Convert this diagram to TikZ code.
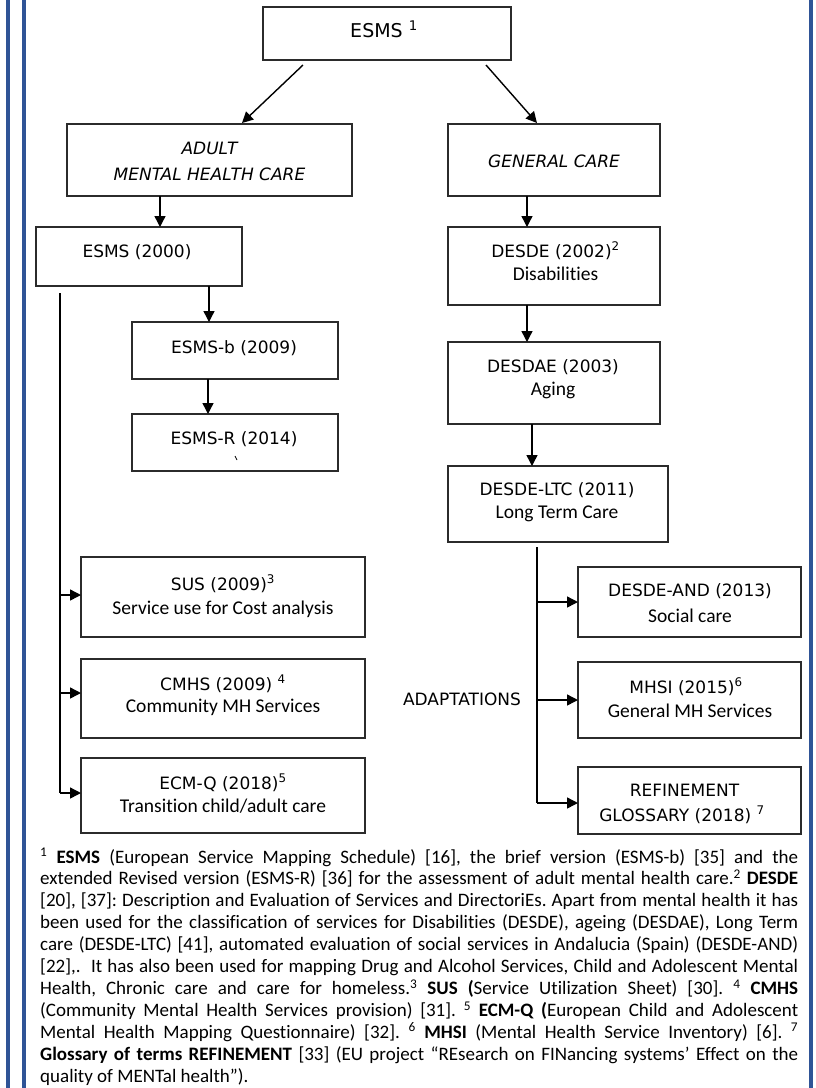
\documentclass[tikz,border=0pt]{standalone}
\usepackage{fontspec}
\setmainfont{Carlito}[Ligatures={TeX,NoCommon}]
\newfontfamily\dv{DejaVu Sans}
\usetikzlibrary{arrows.meta,calc}
\definecolor{frameblue}{HTML}{2F5496}
\definecolor{boxline}{HTML}{2B2B2B}
\frenchspacing
\newcommand{\jl}[1]{\hbox to 758pt{#1}}
\begin{document}
\begin{tikzpicture}[x=1pt,y=-1pt,
  box/.style={draw=boxline, line width=1.5pt, inner sep=0pt, outer sep=0pt},
  ttl/.style={font=\dv\fontsize{17}{20}\selectfont, anchor=base, inner sep=0pt},
  itl/.style={font=\dv\itshape\fontsize{17}{20}\selectfont, anchor=base, inner sep=0pt},
  sub/.style={font=\fontsize{19.5}{22}\selectfont, anchor=base, inner sep=0pt},
  arr/.style={draw=black, line width=1.4pt, -{Triangle[length=11pt,width=11pt]}},
  ln/.style={draw=black, line width=1.4pt},
  fn/.style={font=\fontsize{19}{22}\selectfont, anchor=base west, inner sep=0pt},
  frame/.style={draw=frameblue, line width=4pt}]
\useasboundingbox (0,0) rectangle (815,1088);
% blue frame lines
\coordinate (fa) at (8,0);   \coordinate (fb) at (8,1088);
\coordinate (fc) at (24,0);  \coordinate (fd) at (24,1088);
\coordinate (fe) at (811,0); \coordinate (ff) at (811,1088);
\draw[frame] (fa) -- (fb);
\draw[frame] (fc) -- (fd);
\draw[frame] (fe) -- (ff);

% boxes
\node[box, minimum width=248pt, minimum height=53pt] (esms) at (387,33.5) {};
\node[box, minimum width=285pt, minimum height=72pt] (adult) at (209.5,160) {};
\node[box, minimum width=212pt, minimum height=72pt] (gen) at (554,160) {};
\node[box, minimum width=206pt, minimum height=59pt] (e2000) at (139,256.5) {};
\node[box, minimum width=212pt, minimum height=78pt] (desde) at (554,266) {};
\node[box, minimum width=206pt, minimum height=57pt] (esmsb) at (235,350.5) {};
\node[box, minimum width=206pt, minimum height=57pt] (esmsr) at (235,442.5) {};
\node[box, minimum width=212pt, minimum height=82pt] (desdae) at (554,383) {};
\node[box, minimum width=220pt, minimum height=76pt] (ltc) at (558,504) {};
\node[box, minimum width=284pt, minimum height=80pt] (sus) at (223,597) {};
\node[box, minimum width=284pt, minimum height=79pt] (cmhs) at (223,698.5) {};
\node[box, minimum width=284pt, minimum height=75pt] (ecmq) at (223,795.5) {};
\node[box, minimum width=223pt, minimum height=70pt] (dand) at (689.5,602) {};
\node[box, minimum width=223pt, minimum height=76pt] (mhsi) at (689.5,700) {};
\node[box, minimum width=223pt, minimum height=67pt] (refi) at (689.5,800.5) {};

% texts
\node[ttl, font=\dv\fontsize{19}{22}\selectfont] (tEsms) at (384,37) {ESMS \textsuperscript{1}};
\node[itl] (tAdult1) at (209.5,154) {ADULT};
\node[itl] (tAdult2) at (209.5,180) {MENTAL HEALTH CARE};
\node[itl] (tGen) at (554,167) {GENERAL CARE};
\node[ttl] (tE2000) at (137,257) {ESMS (2000)};
\node[ttl] (tDesde1) at (555.5,257) {DESDE (2002)\textsuperscript{2}};
\node[sub] (tDesde2) at (555.5,280) {Disabilities};
\node[ttl] (tEsmsb) at (234,353) {ESMS-b (2009)};
\node[ttl] (tEsmsr) at (234,444) {ESMS-R (2014)};
\node[ttl] (tDesdae1) at (553,372) {DESDAE (2003)};
\node[sub] (tDesdae2) at (553,395) {Aging};
\node[ttl] (tLtc1) at (557,495) {DESDE-LTC (2011)};
\node[sub] (tLtc2) at (557,518) {Long Term Care};
\node[ttl] (tSus1) at (223,590) {SUS (2009)\textsuperscript{3}};
\node[sub] (tSus2) at (223,614) {Service use for Cost analysis};
\node[ttl] (tCmhs1) at (223,690) {CMHS (2009) \textsuperscript{4}};
\node[sub] (tCmhs2) at (223,712) {Community MH Services};
\node[ttl] (tEcmq1) at (223,789) {ECM-Q (2018)\textsuperscript{5}};
\node[sub] (tEcmq2) at (223,812) {Transition child/adult care};
\node[ttl] (tDand1) at (690,596) {DESDE-AND (2013)};
\node[sub] (tDand2) at (690,622) {Social care};
\node[ttl] (tMhsi1) at (686,693) {MHSI (2015)\textsuperscript{6}};
\node[sub] (tMhsi2) at (690,717) {General MH Services};
\node[ttl] (tRef1) at (684.5,796) {REFINEMENT};
\node[ttl] (tRef2) at (682,821) {GLOSSARY (2018) \textsuperscript{7}};
\node[ttl] (tAdapt) at (462,705) {ADAPTATIONS};
% stray tick mark in ESMS-R box
\coordinate (tk1) at (235,456); \coordinate (tk2) at (237,460);
\draw[line width=0.8pt] (tk1) -- (tk2);

% connectors
\draw[arr] ([shift={(-84,5)}]esms.south) -- ([shift={(32.5,-1)}]adult.north);
\draw[arr] ([shift={(99,5)}]esms.south) -- ([shift={(-17,-1)}]gen.north);
\draw[arr] ([xshift=-49.5pt]adult.south) -- ([xshift=-49.5pt]adult.south |- e2000.north);
\draw[arr] ([xshift=-27pt]gen.south) -- ([xshift=-27pt]gen.south |- desde.north);
\draw[arr] ([xshift=70pt]e2000.south) -- ([xshift=70pt]e2000.south |- esmsb.north);
\draw[arr] ([xshift=-27pt]esmsb.south) -- ([xshift=-27pt]esmsb.south |- esmsr.north);
\draw[arr] ([xshift=-27pt]desde.south) -- ([xshift=-27pt]desde.south |- desdae.north);
\draw[arr] ([xshift=-22pt]desdae.south) -- ([xshift=-22pt]desdae.south |- ltc.north);

% left trunk
\coordinate (lt) at (60,293);
\coordinate (lb1) at (60,595);
\coordinate (lb2) at (60,693);
\coordinate (lb3) at (60,793);
\draw[ln] (lt) -- (lb3);
\draw[arr] (lb1) -- (lb1 -| sus.west);
\draw[arr] (lb2) -- (lb2 -| cmhs.west);
\draw[arr] (lb3) -- (lb3 -| ecmq.west);

% right trunk
\coordinate (rt) at (537,547);
\coordinate (rb1) at (537,602);
\coordinate (rb2) at (537,700);
\coordinate (rb3) at (537,803);
\draw[ln] (rt) -- (rb3);
\draw[arr] (rb1) -- (rb1 -| dand.west);
\draw[arr] (rb2) -- (rb2 -| mhsi.west);
\draw[arr] (rb3) -- (rb3 -| refi.west);

% footnote
\node[fn] (f1) at (40,863) {\jl{\textsuperscript{1} \textbf{ESMS} (European Service Mapping Schedule) [16], the brief version (ESMS-b) [35] and the}};
\node[fn] (f2) at (40,884.9) {\jl{extended Revised version (ESMS-R) [36] for the assessment of adult mental health care.\textsuperscript{2} \textbf{DESDE}}};
\node[fn] (f3) at (40,906.8) {\jl{{[20]}, [37]: Description and Evaluation of Services and DirectoriEs. Apart from mental health it has}};
\node[fn] (f4) at (40,928.7) {\jl{been used for the classification of services for Disabilities (DESDE), ageing (DESDAE), Long Term}};
\node[fn] (f5) at (40,950.6) {\jl{care (DESDE-LTC) [41], automated evaluation of social services in Andalucia (Spain) (DESDE-AND)}};
\node[fn] (f6) at (40,972.5) {\jl{{[22]},.\ \ It has also been used for mapping Drug and Alcohol Services, Child and Adolescent Mental}};
\node[fn] (f7) at (40,994.4) {\jl{Health, Chronic care and care for homeless.\textsuperscript{3} \textbf{SUS (}Service Utilization Sheet) [30]. \textsuperscript{4} \textbf{CMHS}}};
\node[fn] (f8) at (40,1016.3) {\jl{(Community Mental Health Services provision) [31]. \textsuperscript{5} \textbf{ECM-Q (}European Child and Adolescent}};
\node[fn] (f9) at (40,1038.2) {\jl{Mental Health Mapping Questionnaire) [32]. \textsuperscript{6} \textbf{MHSI} (Mental Health Service Inventory) [6]. \textsuperscript{7}}};
\node[fn] (f10) at (40,1060.1) {\jl{\textbf{Glossary of terms REFINEMENT} [33] (EU project “REsearch on FINancing systems' Effect on the}};
\node[fn] (f11) at (40,1082) {quality of MENTal health”).};
\end{tikzpicture}
\end{document}
